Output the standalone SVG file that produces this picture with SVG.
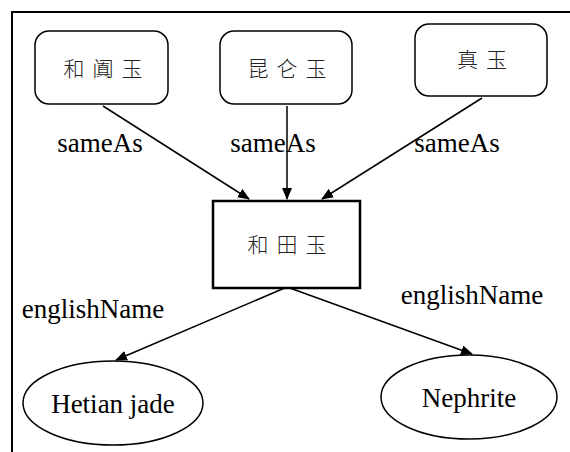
<svg xmlns="http://www.w3.org/2000/svg" width="570" height="452" viewBox="0 0 570 452">
<style>
.frame{stroke:#000;stroke-width:2;fill:none}
.rnode{fill:#fff;stroke:#000;stroke-width:1.5}
.bnode{fill:#fff;stroke:#000;stroke-width:2.5}
.enode{fill:#fff;stroke:#000;stroke-width:1.5}
.cjk{font-family:"Noto Sans CJK SC","Noto Sans CJK JP",sans-serif;font-size:21px;font-weight:300;letter-spacing:8px;fill:#222}
.lab{font-family:"Liberation Serif","Times New Roman",serif;font-size:27px;fill:#000}
.edge{stroke:#000;stroke-width:1.5;fill:none}
</style>
<defs>
<marker id="arr" markerWidth="12" markerHeight="10" refX="11" refY="5" orient="auto" markerUnits="userSpaceOnUse">
<path d="M0,0 L12,5 L0,10 Z" fill="#000"/>
</marker>
</defs>
<rect width="570" height="452" fill="#fff"/>
<path class="frame" d="M12,452 V12 H570"/>
<g id="edges">
<line class="edge" x1="103" y1="106" x2="249" y2="199" marker-end="url(#arr)"/>
<line class="edge" x1="287" y1="106" x2="287" y2="199" marker-end="url(#arr)"/>
<line class="edge" x1="482" y1="98" x2="322" y2="199" marker-end="url(#arr)"/>
<line class="edge" x1="287" y1="287" x2="116" y2="360" marker-end="url(#arr)"/>
<line class="edge" x1="287" y1="287" x2="472" y2="354" marker-end="url(#arr)"/>
<text class="lab" x="100" y="152" text-anchor="middle">sameAs</text>
<text class="lab" x="273" y="152" text-anchor="middle">sameAs</text>
<text class="lab" x="457" y="152" text-anchor="middle">sameAs</text>
<text class="lab" x="93" y="318" text-anchor="middle">englishName</text>
<text class="lab" x="472" y="304" text-anchor="middle">englishName</text>
</g>
<g id="n_hetianyu_a">
<rect class="rnode" x="35" y="31" width="133" height="73" rx="14"/>
<text class="cjk" x="107" y="76" text-anchor="middle">和阗玉</text>
</g>
<g id="n_kunlunyu">
<rect class="rnode" x="220" y="31" width="132" height="73" rx="14"/>
<text class="cjk" x="291" y="76" text-anchor="middle">昆仑玉</text>
</g>
<g id="n_zhenyu">
<rect class="rnode" x="415" y="24" width="132" height="72" rx="14"/>
<text class="cjk" x="486" y="67" text-anchor="middle">真玉</text>
</g>
<g id="n_hetianyu">
<rect class="bnode" x="213" y="201" width="147" height="87"/>
<text class="cjk" x="291" y="252" text-anchor="middle">和田玉</text>
</g>
<g id="n_hetian_jade">
<ellipse class="enode" cx="113" cy="403" rx="90" ry="42"/>
<text class="lab" x="113" y="413" text-anchor="middle">Hetian jade</text>
</g>
<g id="n_nephrite">
<ellipse class="enode" cx="469" cy="397" rx="88" ry="42"/>
<text class="lab" x="469" y="407" text-anchor="middle">Nephrite</text>
</g>
</svg>
